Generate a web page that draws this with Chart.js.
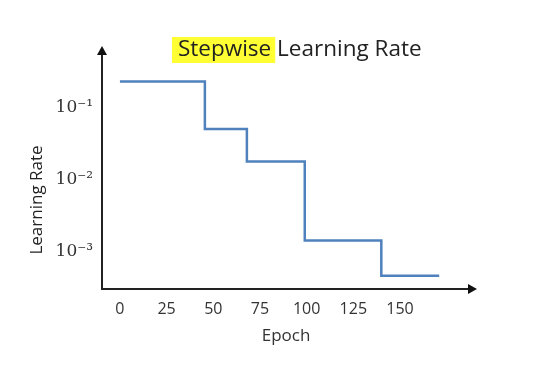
<!DOCTYPE html>
<html>
<head>
<meta charset="utf-8">
<script src="https://cdn.jsdelivr.net/npm/chart.js@4.4.1/dist/chart.umd.min.js"></script>
<style>
  html, body { margin: 0; padding: 0; background: #fff; }
  #wrap { width: 534px; height: 380px; }
</style>
</head>
<body>
<div id="wrap"><canvas id="chart-lr"></canvas></div>
<script>
// data
var epochs = [0, 45.5, 68, 99, 140, 171];
var learningRates = [0.227, 0.050, 0.0177, 0.00141, 0.00046, 0.00046];
var xTicks = [0, 25, 50, 75, 100, 125, 150];
var yTicks = [0.001, 0.01, 0.1];
var yTickLabels = ["10\u207B\u00B3", "10\u207B\u00B2", "10\u207B\u00B9"];

var points = epochs.map(function (e, i) { return { x: e, y: learningRates[i] }; });

// arrows, title with highlight, y-axis title
var decorations = {
  id: "decorations",
  afterDraw: function (chart) {
    var ctx = chart.ctx;
    var a = chart.chartArea;
    ctx.save();
    ctx.fillStyle = "#111";
    // up arrow
    ctx.beginPath();
    ctx.moveTo(a.left - 5, a.top + 2);
    ctx.lineTo(a.left, a.top - 7);
    ctx.lineTo(a.left + 5, a.top + 2);
    ctx.closePath();
    ctx.fill();
    // right arrow
    ctx.beginPath();
    ctx.moveTo(a.right - 2, a.bottom - 5);
    ctx.lineTo(a.right + 7, a.bottom);
    ctx.lineTo(a.right - 2, a.bottom + 5);
    ctx.closePath();
    ctx.fill();

    // title
    ctx.font = "22.5px 'Open Sans'";
    ctx.textBaseline = "middle";
    ctx.textAlign = "left";
    var first = "Stepwise";
    var rest = " Learning Rate";
    var w1 = ctx.measureText(first).width;
    var x0 = 178, y0 = 50;
    ctx.fillStyle = "#ffff33";
    ctx.fillRect(x0 - 6, y0 - 13, w1 + 10, 26);
    ctx.fillStyle = "#222";
    ctx.fillText(first, x0, y0);
    ctx.fillText(rest, x0 + w1, y0);

    // y axis title
    ctx.font = "17px 'Open Sans'";
    ctx.translate(37, 200);
    ctx.rotate(-Math.PI / 2);
    ctx.textAlign = "center";
    ctx.fillText("Learning Rate", 0, 0);
    ctx.restore();
  }
};

var ctx1 = document.getElementById("chart-lr").getContext("2d");

new Chart(ctx1, {
  type: "line",
  data: {
    datasets: [
      {
        label: "Learning Rate",
        data: points,
        stepped: true,
        borderColor: "#4f81bd",
        borderWidth: 2.5,
        pointRadius: 0,
        fill: false,
      },
    ],
  },
  plugins: [decorations],
  options: {
    responsive: true,
    maintainAspectRatio: false,
    animation: false,
    layout: {
      padding: { top: 53, right: 64, bottom: 34, left: 0 },
    },
    plugins: {
      legend: { display: false },
      tooltip: { enabled: false },
    },
    scales: {
      x: {
        type: "linear",
        min: -9.6,
        max: 187.5,
        afterBuildTicks: function (scale) {
          scale.ticks = xTicks.map(function (v) { return { value: v }; });
        },
        afterFit: function (scale) { scale.height = 57; },
        grid: { display: false, drawTicks: false },
        border: { display: true, color: "#222", width: 2 },
        ticks: {
          padding: 11,
          color: "#333",
          font: { size: 16, family: "Open Sans" },
        },
        title: {
          display: true,
          text: "Epoch",
          color: "#333",
          padding: { top: 0, bottom: 0 },
          font: { size: 17, family: "Open Sans" },
        },
      },
      y: {
        type: "logarithmic",
        min: 0.000332,
        max: 0.566,
        afterBuildTicks: function (scale) {
          scale.ticks = yTicks.map(function (v) { return { value: v }; });
        },
        afterFit: function (scale) { scale.width = 102; },
        grid: { display: false, drawTicks: false },
        border: { display: true, color: "#222", width: 2 },
        ticks: {
          padding: 9,
          color: "#333",
          font: { size: 17, family: "DejaVu Serif" },
          callback: function (value) {
            var i = yTicks.indexOf(value);
            return i >= 0 ? yTickLabels[i] : "";
          },
        },
      },
    },
  },
});
</script>
</body>
</html>
